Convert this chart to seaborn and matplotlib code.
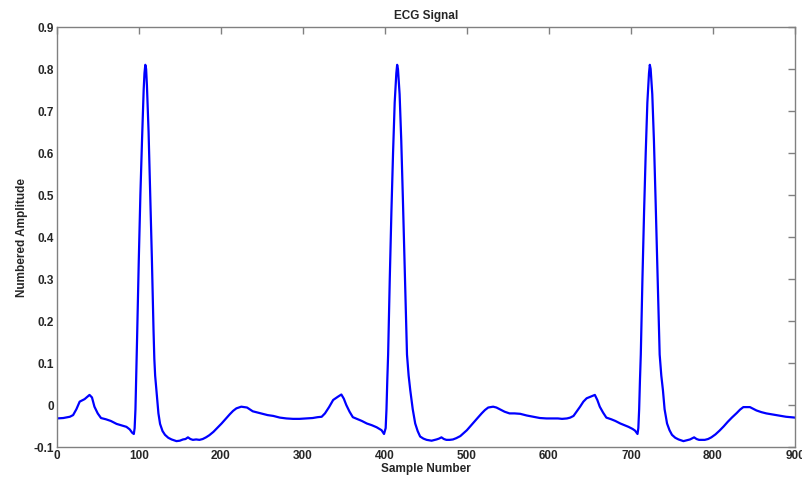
import matplotlib
matplotlib.use("Agg")
import matplotlib.pyplot as plt
import seaborn as sns
import pandas as pd

# Sample numbers and amplitudes (three beats)
sample_number = [
    0, 8, 16, 20, 24, 28, 34, 40, 43, 46, 50, 54, 60, 66, 73, 80, 85, 89, 92, 94,
    95, 96, 97, 98, 100, 102, 104, 106, 107, 108, 109, 110, 112, 114, 116, 118, 119, 120, 122, 124,
    126, 129, 132, 136, 140, 146, 150, 154, 157, 160, 163, 166, 170, 174, 178, 182, 186, 191, 196, 201,
    206, 211, 215, 219, 225, 232, 239, 245, 251, 257, 264, 272, 280, 288, 296, 304, 312,
    318, 323, 327, 332, 337, 343, 347, 350, 353, 357, 361, 367, 372, 378, 384, 390, 396, 399,
    401, 402, 403, 404, 406, 408, 410, 412, 414, 415, 416, 418, 420, 422, 424, 426, 427, 429, 431, 434,
    437, 440, 443, 447, 451, 457, 463, 466, 469, 472, 475, 479, 483, 487, 492, 496, 500, 504, 508, 513,
    518, 522, 526, 532, 536, 540, 546, 552, 558, 565, 573, 581, 589, 597, 604, 611,
    616, 622, 626, 630, 634, 638, 642, 646, 651, 656, 659, 662, 666, 670, 676, 681, 687, 692, 697, 702,
    705, 708, 709, 710, 711, 712, 714, 716, 718, 720, 722, 723, 724, 726, 728, 730, 732, 734, 735, 737,
    739, 741, 744, 747, 750, 754, 758, 764, 768, 772, 775, 777, 780, 783, 787, 790, 794, 798, 803, 808,
    813, 818, 823, 829, 833, 837, 845, 849, 853, 859, 865, 871, 877, 883, 889, 895, 900,
]
amplitude = [
    -0.032, -0.031, -0.028, -0.024, -0.010, 0.008, 0.014, 0.024, 0.018, -0.004, -0.020, -0.031, -0.034, -0.038, -0.045, -0.049, -0.052, -0.058, -0.066, -0.069,
    -0.055, -0.010, 0.07, 0.16, 0.34, 0.50, 0.63, 0.75, 0.79, 0.81, 0.80, 0.76, 0.65, 0.50, 0.35, 0.18, 0.11, 0.07, 0.025, -0.02,
    -0.045, -0.062, -0.071, -0.078, -0.082, -0.086, -0.085, -0.082, -0.081, -0.077, -0.081, -0.083, -0.082, -0.083, -0.081, -0.077, -0.072, -0.064, -0.054, -0.044,
    -0.033, -0.022, -0.014, -0.008, -0.004, -0.006, -0.015, -0.018, -0.021, -0.024, -0.026, -0.030, -0.032, -0.033, -0.033, -0.032, -0.031,
    -0.029, -0.028, -0.020, -0.005, 0.012, 0.020, 0.025, 0.015, 0.000, -0.016, -0.029, -0.034, -0.038, -0.044, -0.048, -0.053, -0.060, -0.069,
    -0.055, -0.010, 0.06, 0.12, 0.30, 0.46, 0.60, 0.72, 0.79, 0.81, 0.80, 0.74, 0.63, 0.49, 0.34, 0.19, 0.12, 0.07, 0.035, -0.010,
    -0.044, -0.062, -0.075, -0.080, -0.083, -0.085, -0.082, -0.080, -0.077, -0.081, -0.083, -0.083, -0.082, -0.079, -0.074, -0.067, -0.060, -0.051, -0.042, -0.031,
    -0.020, -0.012, -0.006, -0.004, -0.006, -0.010, -0.016, -0.020, -0.020, -0.021, -0.025, -0.028, -0.031, -0.032, -0.032, -0.032,
    -0.033, -0.032, -0.030, -0.026, -0.015, -0.004, 0.008, 0.016, 0.020, 0.024, 0.012, -0.004, -0.018, -0.030, -0.034, -0.038, -0.044, -0.048, -0.052, -0.057,
    -0.061, -0.069, -0.055, -0.010, 0.06, 0.12, 0.30, 0.46, 0.60, 0.72, 0.79, 0.81, 0.80, 0.74, 0.63, 0.49, 0.34, 0.19, 0.12, 0.07,
    0.035, -0.010, -0.044, -0.060, -0.071, -0.078, -0.082, -0.086, -0.084, -0.082, -0.079, -0.077, -0.081, -0.083, -0.083, -0.083, -0.081, -0.077, -0.070, -0.061,
    -0.051, -0.040, -0.030, -0.019, -0.011, -0.005, -0.005, -0.009, -0.013, -0.017, -0.020, -0.022, -0.024, -0.026, -0.028, -0.029, -0.030,
]

x_ticks = [0, 100, 200, 300, 400, 500, 600, 700, 800, 900]
y_ticks = [-0.1, 0, 0.1, 0.2, 0.3, 0.4, 0.5, 0.6, 0.7, 0.8, 0.9]
y_tick_labels = ["-0.1", "0", "0.1", "0.2", "0.3", "0.4", "0.5", "0.6", "0.7", "0.8", "0.9"]

sns.set_style("white")
plt.rcParams["font.family"] = ["Liberation Sans", "DejaVu Sans"]

df = pd.DataFrame({"Sample Number": sample_number, "Numbered Amplitude": amplitude})

fig = plt.figure(figsize=(8.02, 4.79), dpi=100)
ax = fig.add_axes([0.0707, 0.0668, 0.9206, 0.8768])

sns.lineplot(data=df, x="Sample Number", y="Numbered Amplitude", ax=ax,
             color="#0000ff", linewidth=1.6, estimator=None, sort=False)

ax.set_xlim(0, 900)
ax.set_ylim(-0.1, 0.9)
ax.set_xticks(x_ticks)
ax.set_xticklabels([str(t) for t in x_ticks])
ax.set_yticks(y_ticks)
ax.set_yticklabels(y_tick_labels)

for s in ax.spines.values():
    s.set_visible(True)
    s.set_color("#808080")
    s.set_linewidth(1.0)

ax.tick_params(axis="both", which="major", direction="in", length=5, width=1.0,
               color="#808080", top=True, right=True, labelsize=8.5, pad=2)
for lbl in ax.get_xticklabels() + ax.get_yticklabels():
    lbl.set_fontweight("bold")

ax.set_title("ECG Signal", fontsize=8.5, fontweight="bold", pad=6)
ax.set_xlabel("Sample Number", fontsize=8.5, fontweight="bold", labelpad=1)
ax.set_ylabel("Numbered Amplitude", fontsize=8.5, fontweight="bold", labelpad=4)

fig.savefig("out.png", dpi=100)
